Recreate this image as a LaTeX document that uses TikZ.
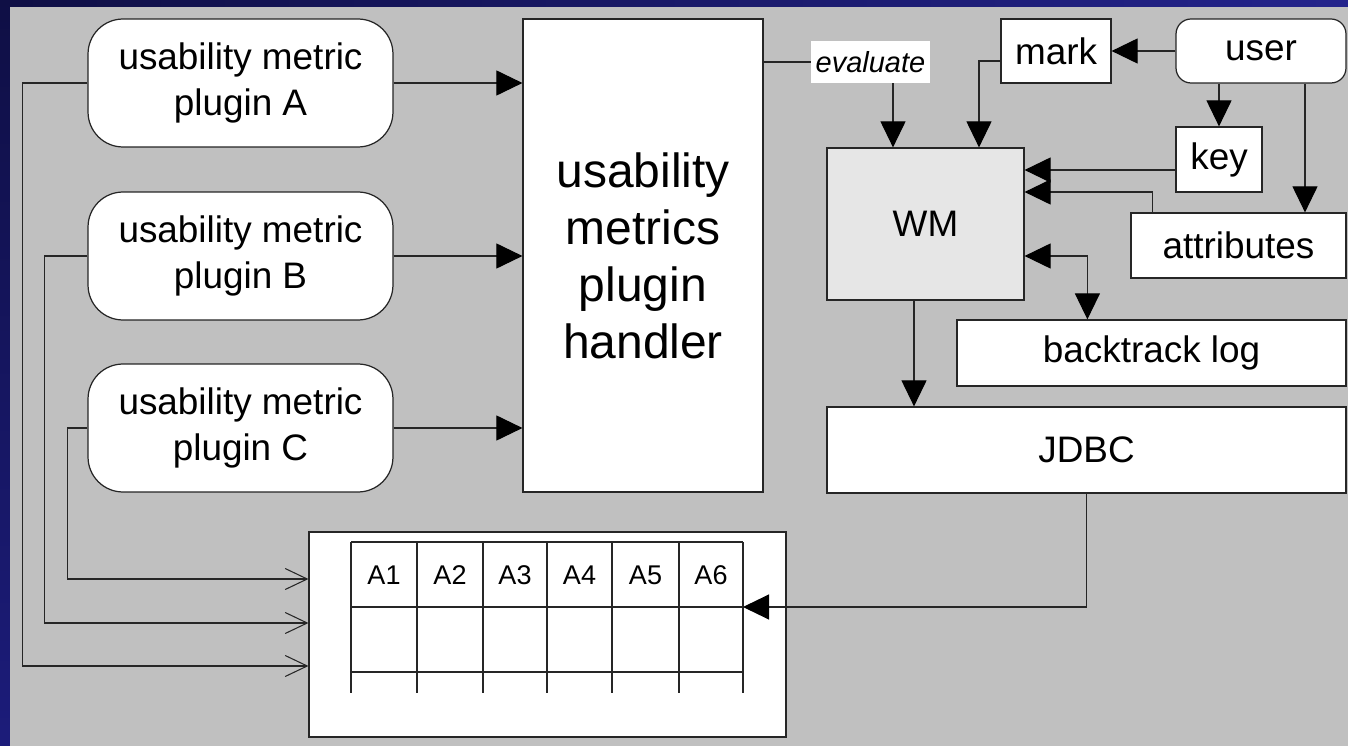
\documentclass[tikz,border=0pt]{standalone}
\usepackage{fontspec}
\setmainfont{Liberation Sans}
\usetikzlibrary{arrows.meta}

\definecolor{bggray}{HTML}{C0C0C0}
\definecolor{wmgray}{HTML}{E6E6E6}
\definecolor{navytop}{HTML}{0F0F45}
\definecolor{navybot}{HTML}{1C1C7A}
\definecolor{navyright}{HTML}{24248C}
\definecolor{linecol}{HTML}{262626}

\begin{document}
\begin{tikzpicture}[
  x=0.02cm, y=-0.02cm,
  every node/.style={inner sep=1pt},
  box/.style={draw=linecol, line width=0.7pt, fill=white, inner sep=0pt,
    font=\fontsize{21}{26}\selectfont, align=center},
  plug/.style={box, rounded corners=0.7cm, minimum width=6.1cm, minimum height=2.56cm},
  bigbox/.style={box, font=\fontsize{27.3}{32.4}\selectfont},
  cell/.style={inner sep=0pt, font=\fontsize{15.4}{18}\selectfont},
  edge/.style={draw=linecol, line width=0.6pt},
  arrow/.style={draw=linecol, line width=0.6pt,
    -{Triangle[length=0.52cm, width=0.5cm, color=black]}},
  darrow/.style={draw=linecol, line width=0.6pt,
    {Triangle[length=0.52cm, width=0.5cm, color=black]}-{Triangle[length=0.52cm, width=0.5cm, color=black]}},
  barb/.style={draw=linecol, line width=0.6pt, -{Straight Barb[length=0.44cm, width=0.42cm]}}]

  \useasboundingbox (0,0) rectangle (1348,746);

  % --- background: navy frame, gray slide ---
  \shade[top color=navytop, bottom color=navybot] (0,0) rectangle (1348,746);
  \shade[left color=navytop, right color=navyright] (0,0) rectangle (1348,7);
  \fill[bggray] (10,7) rectangle (1348,746);

  % --- plugins and their handler ---
  \node[plug] (plugA) at (240.5,83)  {usability metric\\plugin A};
  \node[plug] (plugB) at (240.5,256) {usability metric\\plugin B};
  \node[plug] (plugC) at (240.5,428) {usability metric\\plugin C};
  \node[bigbox, minimum width=4.8cm, minimum height=9.46cm] (handler) at (643,255.5)
    {usability\\metrics\\plugin\\handler};

  % --- right hand side ---
  \node[fill=white, inner sep=0pt, minimum width=2.38cm, minimum height=0.84cm,
    font=\fontsize{16.5}{20}\selectfont\itshape] (eval) at (870.5,62) {evaluate};
  \node[box, fill=wmgray, minimum width=3.94cm, minimum height=3.04cm] (WM) at (925.5,224) {WM};
  \node[box, minimum width=2.2cm, minimum height=1.28cm] (mark) at (1056,51) {mark};
  \node[box, rounded corners=0.3cm, minimum width=3.4cm, minimum height=1.28cm] (user) at (1261,51) {user};
  \node[box, minimum width=1.72cm, minimum height=1.3cm] (key) at (1219,159.5) {key};
  \node[box, minimum width=4.3cm, minimum height=1.3cm] (attr) at (1238.5,245.5) {attributes};
  \node[box, minimum width=7.78cm, minimum height=1.32cm] (back) at (1151.5,353) {backtrack log};
  \node[box, minimum width=10.38cm, minimum height=1.72cm] (JDBC) at (1086.5,450) {JDBC};

  % --- the table ---
  \node[box, minimum width=9.54cm, minimum height=4.1cm] (tbl) at (547.5,634.5) {};
  \foreach \x in {351,417,483,547,612,679,743}
    \draw[edge] (\x,542) -- (\x,693);
  \foreach \y in {542,607,672}
    \draw[edge] (351,\y) -- (743,\y);
  \foreach \i/\x in {1/384, 2/450, 3/515, 4/579.5, 5/645.5, 6/711}
    \node[cell] (a\i) at (\x,575) {A\i};
  \coordinate (rowend) at (743,607);

  % --- connectors ---
  \draw[arrow] (plugA.east) -- (handler.west |- plugA.east);
  \draw[arrow] (plugB.east) -- (handler.west |- plugB.east);
  \draw[arrow] (plugC.east) -- (handler.west |- plugC.east);

  \draw[barb] (plugA.west) -- ++(-65,0) |- ([yshift=-0.63cm]tbl.west);
  \draw[barb] (plugB.west) -- ++(-43,0) |- ([yshift=0.23cm]tbl.west);
  \draw[barb] (plugC.west) -- ++(-20,0) |- ([yshift=1.11cm]tbl.west);

  \draw[edge] (handler.east |- eval.west) -- (eval.west);
  \draw[arrow] ([xshift=0.45cm]eval.south) -- ([xshift=0.45cm]eval.south |- WM.north);
  \draw[arrow] ([yshift=-0.2cm]mark.west) -| ([xshift=1.07cm]WM.north);
  \draw[arrow] (user.west) -- (mark.east);
  \draw[arrow] (user.south -| key.north) -- (key.north);
  \draw[arrow] ([xshift=0.88cm]user.south) -- ([xshift=0.88cm]user.south |- attr.north);
  \draw[arrow] ([yshift=-0.21cm]key.west) -- ([yshift=-0.21cm]WM.east |- key.west);
  \draw[arrow] ([xshift=0.44cm]attr.north west) |- ([yshift=0.64cm]WM.east);
  \draw[darrow] ([yshift=-0.64cm]WM.east) -| ([xshift=2.62cm]back.north west);
  \draw[arrow] ([xshift=-0.23cm]WM.south) -- ([xshift=-0.23cm]WM.south |- JDBC.north);
  \draw[arrow] (JDBC.south) |- (rowend);

\end{tikzpicture}
\end{document}
